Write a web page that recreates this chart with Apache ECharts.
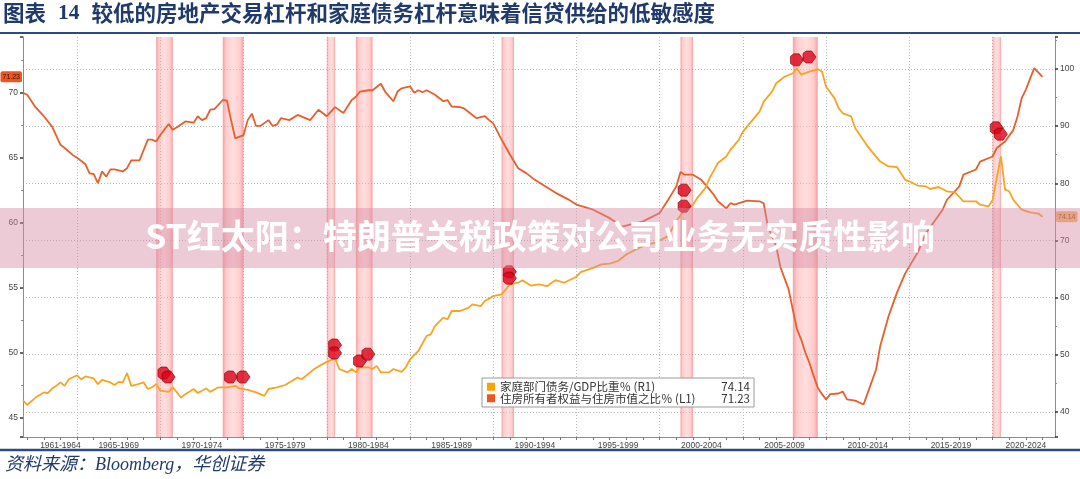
<!DOCTYPE html>
<html><head><meta charset="utf-8">
<script src="https://cdn.jsdelivr.net/npm/echarts@6/dist/echarts.min.js"></script>
<style>html,body{margin:0;padding:0;background:#fff}#c{width:1080px;height:479px}</style>
</head><body><div id="c"></div>
<script>
// ---------- texts ----------
const titleMain = '较低的房地产交易杠杆和家庭债务杠杆意味着信贷供给的低敏感度';
const titleNo = '14';
const sourceText = '资料来源：Bloomberg，华创证券';
const watermarkText = 'ST红太阳：特朗普关税政策对公司业务无实质性影响';
const nameDebt = '家庭部门债务/GDP比重％ (R1)';
const nameEquity = '住房所有者权益与住房市值之比％ (L1)';

// ---------- x axis (quarterly, decimal years) ----------
const AXIS_START = 1961.75, AXIS_END = 2023.75;
const periodStarts = [1961,1965,1970,1975,1980,1985,1990,1995,2000,2005,2010,2015,2020];
const periodLabels = ['1961-1964','1965-1969','1970-1974','1975-1979','1980-1984','1985-1989','1990-1994','1995-1999','2000-2004','2005-2009','2010-2014','2015-2019','2020-2024'];

// recession shading [start, end]
const recessions = [[1969.75,1970.75],[1973.75,1975.0],[1980.0,1980.5],[1981.75,1982.75],[1990.5,1991.25],[2001.25,2002.0],[2008.0,2009.5],[2020.0,2020.5]];

// 家庭部门债务/GDP比重 (right axis)
const debtToGdp = [[1961.75,42.0],[1962.0,41.2],[1962.5,42.5],[1963.0,43.4],[1963.25,43.3],[1963.5,44.1],[1963.75,44.55],[1964.0,45.15],[1964.25,44.55],[1964.5,45.7],[1965.0,46.4],[1965.25,45.7],[1965.5,46.2],[1966.0,45.85],[1966.25,44.85],[1966.5,45.6],[1967.0,45.15],[1967.25,44.7],[1967.5,45.25],[1967.75,45.15],[1968.0,46.8],[1968.25,44.55],[1968.5,44.7],[1969.0,45.15],[1969.25,44.0],[1969.5,44.3],[1969.75,44.85],[1970.0,43.7],[1970.5,43.5],[1970.75,44.3],[1971.25,42.5],[1971.5,43.1],[1972.0,44.0],[1972.25,43.3],[1972.5,43.7],[1972.75,44.1],[1973.0,43.5],[1973.5,44.3],[1974.0,44.3],[1974.5,44.55],[1974.75,44.1],[1975.25,43.85],[1975.75,43.4],[1976.25,42.8],[1976.5,44.0],[1977.0,44.3],[1977.5,44.7],[1977.75,45.15],[1978.25,46.0],[1978.5,45.7],[1979.0,46.9],[1979.25,47.5],[1979.75,48.35],[1980.0,48.75],[1980.5,49.35],[1980.75,47.5],[1981.25,46.9],[1981.5,47.5],[1981.75,46.9],[1982.0,47.8],[1982.5,47.8],[1982.75,47.5],[1983.0,48.05],[1983.25,46.9],[1983.75,46.9],[1984.0,47.5],[1984.5,47.0],[1984.75,47.8],[1985.0,49.2],[1985.5,50.65],[1986.0,53.3],[1986.25,53.55],[1986.5,55.0],[1987.0,56.5],[1987.25,56.2],[1987.5,57.65],[1988.0,57.65],[1988.5,58.2],[1988.75,58.8],[1989.25,58.5],[1989.5,59.4],[1990.0,60.25],[1990.5,60.55],[1990.75,61.4],[1991.0,62.3],[1991.5,62.6],[1991.75,63.05],[1992.25,62.1],[1992.75,62.3],[1993.25,62.0],[1993.5,62.6],[1993.75,63.05],[1994.25,62.6],[1995.0,63.65],[1995.25,64.45],[1996.0,65.2],[1996.5,65.8],[1997.0,65.95],[1997.5,66.4],[1998.0,67.55],[1998.75,68.7],[1999.25,69.3],[1999.75,69.6],[2000.5,70.75],[2001.0,73.35],[2001.5,75.4],[2002.0,76.25],[2002.25,77.4],[2002.75,79.2],[2003.0,80.9],[2003.5,83.55],[2004.0,84.7],[2004.25,85.85],[2004.75,87.6],[2005.0,89.05],[2005.5,90.8],[2006.0,92.55],[2006.25,94.3],[2006.75,96.05],[2007.0,97.5],[2007.5,98.65],[2008.0,99.25],[2008.25,100.1],[2008.5,99.0],[2009.0,99.55],[2009.5,99.95],[2009.75,99.55],[2010.0,96.9],[2010.5,94.9],[2010.75,93.15],[2011.0,92.25],[2011.5,91.7],[2011.75,89.65],[2012.5,86.45],[2012.75,85.55],[2013.25,83.8],[2013.75,82.95],[2014.25,82.85],[2014.75,80.6],[2015.0,80.35],[2015.5,79.6],[2016.0,79.45],[2016.25,79.0],[2016.75,79.35],[2017.25,78.6],[2017.75,78.4],[2018.25,76.85],[2019.0,76.85],[2019.25,76.25],[2019.75,75.95],[2020.0,77.1],[2020.5,84.7],[2020.75,78.9],[2021.0,78.6],[2021.25,77.1],[2021.5,76.25],[2021.75,75.4],[2022.25,74.9],[2022.75,74.7],[2023.0,74.14]];

// 住房所有者权益与住房市值之比 (left axis)
const ownersEquity = [[1961.75,70.0],[1962.0,69.85],[1962.5,68.9],[1963.0,68.2],[1963.5,67.4],[1964.0,66.0],[1964.25,65.75],[1964.75,65.2],[1965.0,65.0],[1965.5,64.5],[1965.75,63.8],[1966.0,63.75],[1966.25,63.05],[1966.5,63.95],[1966.75,63.55],[1967.0,64.1],[1967.25,64.1],[1967.75,63.95],[1968.0,64.2],[1968.25,64.8],[1968.75,64.8],[1969.0,65.6],[1969.25,66.4],[1969.5,66.4],[1969.75,66.25],[1970.0,66.75],[1970.5,67.6],[1970.75,67.15],[1971.0,67.35],[1971.5,67.8],[1972.0,67.7],[1972.25,68.2],[1972.5,67.9],[1972.75,68.05],[1973.0,68.7],[1973.25,68.75],[1973.75,69.45],[1974.0,69.4],[1974.25,67.9],[1974.5,66.5],[1975.0,66.75],[1975.25,67.9],[1975.5,68.4],[1975.75,67.45],[1976.0,67.45],[1976.5,67.9],[1976.75,67.45],[1977.0,67.55],[1977.25,68.05],[1977.75,67.9],[1978.25,68.3],[1979.0,67.9],[1979.5,68.7],[1980.0,68.2],[1980.5,68.9],[1981.0,68.45],[1981.5,69.45],[1981.75,69.7],[1982.0,70.1],[1982.5,70.2],[1982.75,70.2],[1983.25,70.7],[1983.5,70.1],[1984.0,69.35],[1984.25,70.1],[1984.5,70.35],[1985.0,70.5],[1985.25,70.0],[1985.5,70.2],[1985.75,70.05],[1986.0,70.2],[1986.5,69.85],[1987.0,69.35],[1987.25,69.45],[1987.5,68.95],[1988.0,68.9],[1988.25,68.8],[1988.75,68.3],[1989.0,68.05],[1989.5,68.2],[1989.75,67.9],[1990.0,67.65],[1990.5,66.4],[1991.0,65.25],[1991.5,64.2],[1992.0,63.8],[1992.5,63.3],[1993.0,62.9],[1993.75,62.3],[1994.5,61.8],[1995.0,61.4],[1996.0,61.0],[1997.0,60.35],[1997.75,59.7],[1999.0,60.1],[2000.0,60.75],[2000.5,61.75],[2001.0,62.8],[2001.25,63.9],[2001.5,63.7],[2002.0,63.7],[2002.5,63.3],[2003.0,62.55],[2003.25,62.15],[2003.5,61.65],[2004.0,61.1],[2004.25,61.5],[2004.5,61.4],[2005.0,61.6],[2005.25,61.7],[2006.0,61.65],[2006.25,61.5],[2006.5,59.7],[2007.0,58.2],[2007.25,56.6],[2007.75,54.85],[2008.0,53.3],[2008.25,51.8],[2008.5,51.0],[2008.75,50.0],[2009.0,49.2],[2009.25,48.2],[2009.5,47.3],[2009.75,46.8],[2010.0,46.4],[2010.25,46.8],[2010.75,46.85],[2011.0,47.0],[2011.25,46.4],[2011.75,46.3],[2012.25,46.0],[2012.5,46.9],[2013.0,48.7],[2013.25,50.5],[2013.75,52.8],[2014.25,54.6],[2014.75,56.1],[2015.5,57.7],[2016.0,59.2],[2016.5,60.1],[2017.0,61.0],[2017.25,61.75],[2018.0,62.8],[2018.25,63.7],[2019.0,64.1],[2019.25,64.7],[2020.0,65.1],[2020.25,65.75],[2020.75,66.25],[2021.25,67.15],[2021.5,68.2],[2021.75,69.6],[2022.0,70.25],[2022.5,71.9],[2023.0,71.23]];

// recession event markers (right-axis values)
const eventMarks = [[1970.25,46.8],[1970.5,46.1],[1974.25,46.1],[1975.0,46.1],[1980.5,51.7],[1980.5,50.3],[1982.0,48.9],[1982.5,50.1],[1991.0,64.5],[1991.0,63.4],[2001.5,78.8],[2001.5,76.0],[2008.25,101.6],[2009.0,102.1],[2020.25,89.7],[2020.5,88.6]];

// ---------- build ----------
const q = t => t.toFixed(2);
const categories = [];
for (let k = Math.round(AXIS_START * 4); k <= Math.round(AXIS_END * 4); k++) categories.push(q(k / 4));
const labelAt = {};
periodStarts.forEach((s, i) => {
  const a = Math.max(s, AXIS_START), b = Math.min(s + 5, AXIS_END);
  labelAt[q(Math.round((a + b) / 2 * 4) / 4)] = periodLabels[i];
});
const isBoundary = v => v.endsWith('.00') && (Math.round(+v) % 5 === 0);
const lastDebt = debtToGdp[debtToGdp.length - 1][1];
const lastEquity = ownersEquity[ownersEquity.length - 1][1];
const lastVals = {}; lastVals[nameDebt] = lastDebt.toFixed(2); lastVals[nameEquity] = lastEquity.toFixed(2);

const ORANGE = '#f6a422', RED = '#e85e2c';
const bandColor = {type:'linear', x:0, y:0, x2:1, y2:0, colorStops:[
  {offset:0, color:'rgba(240,110,110,0.65)'},{offset:0.18, color:'rgba(255,165,165,0.55)'},
  {offset:0.5, color:'rgba(255,190,190,0.5)'},{offset:0.82, color:'rgba(255,165,165,0.55)'},
  {offset:1, color:'rgba(240,110,110,0.65)'}]};
const axisFont = {fontSize: 8.5, color: '#444', fontFamily: 'Liberation Sans, Arial, sans-serif'};

const chart = echarts.init(document.getElementById('c'));
chart.setOption({
  animation: false,
  backgroundColor: '#fff',
  grid: {left: 23, right: 25, top: 37, bottom: 42, containLabel: false, outerBoundsMode: 'none'},
  xAxis: [{
    type: 'category', data: categories, boundaryGap: false,
    axisLine: {show: true, lineStyle: {color: '#8c8c8c', width: 1}},
    axisTick: {show: true, interval: (i, v) => v.endsWith('.00'), length: 3, lineStyle: {color: '#777'}},
    axisLabel: Object.assign({interval: (i, v) => (v in labelAt), formatter: v => labelAt[v] || '', margin: 4, hideOverlap: false}, axisFont),
    splitLine: {show: true, interval: (i, v) => isBoundary(v), lineStyle: {color: '#b8b8b8', type: [1, 2], width: 1}}
  }],
  yAxis: [{
    type: 'value', position: 'left', min: 43.5, max: 74.3, minInterval: 5, maxInterval: 5,
    axisLine: {show: true, lineStyle: {color: '#8c8c8c'}},
    axisTick: {show: true, length: 3, lineStyle: {color: '#333', width: 1.5}},
    minorTick: {show: true, splitNumber: 2, length: 2, lineStyle: {color: '#888'}},
    axisLabel: Object.assign({showMinLabel: false, showMaxLabel: false, margin: 5}, axisFont),
    splitLine: {show: false}
  }, {
    type: 'value', position: 'right', min: 35.6, max: 105.6, minInterval: 10, maxInterval: 10,
    axisLine: {show: true, lineStyle: {color: '#8c8c8c'}},
    axisTick: {show: true, length: 3, lineStyle: {color: '#333', width: 1.5}},
    minorTick: {show: true, splitNumber: 2, length: 2, lineStyle: {color: '#888'}},
    axisLabel: Object.assign({showMinLabel: false, showMaxLabel: false, margin: 5}, axisFont),
    splitLine: {show: true, showMinLine: false, showMaxLine: false, lineStyle: {color: '#b8b8b8', type: [1, 2], width: 1}}
  }],
  legend: {
    left: 482, top: 378, orient: 'vertical', icon: 'rect', itemWidth: 8, itemHeight: 8, itemGap: 0,
    padding: [3, 4, 3, 5], borderColor: '#9a9a9a', borderWidth: 1, backgroundColor: '#fff',
    data: [nameDebt, nameEquity],
    formatter: name => '{n|' + name + '}{v|' + lastVals[name] + '}',
    textStyle: {fontSize: 11.5, color: '#333', fontFamily: 'Noto Sans CJK SC, sans-serif',
      rich: {n: {width: 206, fontSize: 11.5, lineHeight: 12, color: '#333'}, v: {width: 44, align: 'right', fontSize: 11.5, lineHeight: 12, color: '#333'}}}
  },
  series: [{
    name: nameEquity, type: 'line', yAxisIndex: 0, showSymbol: false, z: 3,
    lineStyle: {color: RED, width: 1.8}, itemStyle: {color: '#f0561a'},
    data: ownersEquity.map(([t, v]) => [q(t), v]),
    markArea: {silent: true, itemStyle: {color: bandColor}, data: recessions.map(([a, b]) => [{xAxis: q(a)}, {xAxis: q(b)}])},
    markLine: {silent: true, symbol: ['none', 'none'], lineStyle: {color: 'rgba(0,0,0,0)', width: 0},
      data: [{yAxis: lastEquity}],
      label: {show: true, position: 'start', distance: 1, formatter: () => lastEquity.toFixed(2), backgroundColor: '#ea5520',
        color: '#4a0c00', fontSize: 7, padding: [2, 2], borderRadius: 2, fontFamily: 'Liberation Sans, sans-serif'}}
  }, {
    name: nameDebt, type: 'line', yAxisIndex: 1, showSymbol: false, z: 3,
    lineStyle: {color: ORANGE, width: 1.8}, itemStyle: {color: '#f7a400'},
    data: debtToGdp.map(([t, v]) => [q(t), v]),
    markLine: {silent: true, symbol: ['none', 'none'], lineStyle: {color: 'rgba(0,0,0,0)', width: 0},
      data: [{yAxis: lastDebt}],
      label: {show: true, position: 'end', distance: 1, formatter: () => lastDebt.toFixed(2), backgroundColor: '#f5b56a',
        color: '#8a4a10', fontSize: 7, padding: [2, 2], borderRadius: 2, fontFamily: 'Liberation Sans, sans-serif'}}
  }, {
    name: 'events', type: 'scatter', yAxisIndex: 1, z: 6,
    symbol: 'path://M0,2 L3,0 L8,0 L12,5 L8,10 L3,10 L0,8 Z', symbolSize: [13, 12],
    itemStyle: {color: '#de0018', borderColor: '#7a0000', borderWidth: 0.8},
    data: eventMarks.map(([t, v]) => [q(t), v])
  }],
  graphic: [
    {type: 'text', left: 3, top: 2, z: 50, style: {
      text: '{t|图表}{n|' + titleNo + '}{t|' + titleMain + '}', fill: '#1f3a6b',
      rich: {t: {fontSize: 21.5, fontWeight: 'bold', fontFamily: 'Noto Sans CJK SC', fill: '#1f3a6b'},
             n: {fontSize: 21.5, fontWeight: 'bold', fontFamily: 'Liberation Serif', fill: '#1f3a6b', padding: [0, 12, 0, 12]}}}},
    {type: 'line', z: 50, shape: {x1: 0, y1: 33, x2: 1080, y2: 33}, style: {stroke: '#2b4b82', lineWidth: 2}},
    {type: 'line', z: 50, shape: {x1: 0, y1: 450, x2: 1080, y2: 450}, style: {stroke: '#2b4b82', lineWidth: 2.5}},
    {type: 'text', left: 5, top: 456, z: 50, style: {text: sourceText, fill: '#1f3a6b',
      font: 'italic 18px "Liberation Serif", "Noto Sans CJK SC"'}},
    {type: 'rect', z: 100, shape: {x: 0, y: 208, width: 1080, height: 60}, style: {fill: 'rgba(212,140,165,0.45)'}},
    {type: 'text', left: 'center', top: 219, z: 101, style: {text: watermarkText, fill: '#ffffff',
      font: 'bold 34px "Noto Sans CJK SC"'}}
  ]
});
</script></body></html>
